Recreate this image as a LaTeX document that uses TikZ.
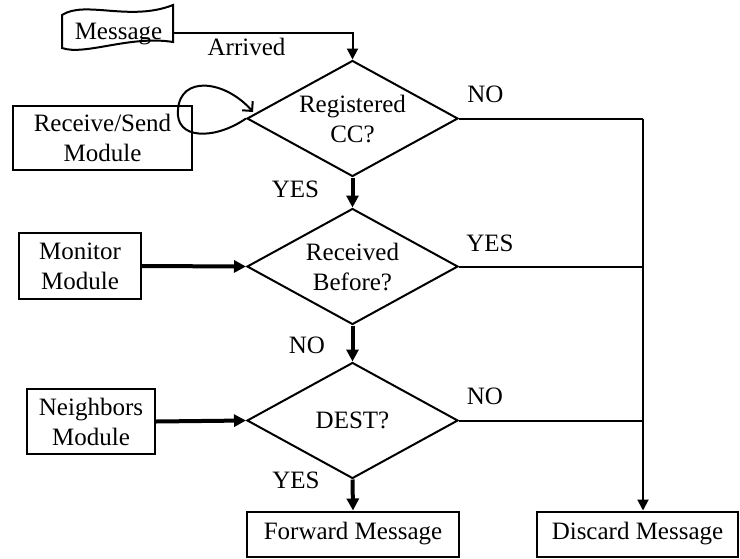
\documentclass[tikz,border=0pt]{standalone}
\usepackage{fontspec}
\setmainfont{Liberation Serif}
\usetikzlibrary{arrows.meta,shapes.geometric}
\begin{document}
\begin{tikzpicture}[x=1pt,y=-1pt,
  every node/.style={font=\fontsize{25}{30}\selectfont},
  thinline/.style={line width=2pt},
  thinarrow/.style={line width=2pt,-{Triangle[length=11pt,width=11pt]}},
  thickarrow/.style={line width=4pt,-{Triangle[length=12pt,width=12pt]}},
  boxnode/.style={draw,line width=2pt,rectangle,inner sep=0pt,align=center},
  decision/.style={draw,line width=2pt,diamond,shape aspect=1.82,inner sep=0pt,
    minimum width=211pt,minimum height=116pt,align=center},
  lbl/.style={anchor=base,inner sep=0pt}]
\useasboundingbox (0,0) rectangle (740,558);

% incoming message (tape symbol)
\node[inner sep=0pt,minimum width=111pt,minimum height=37pt,text depth=0pt] (msg) at (118.5,31) {Message};
\draw[thinline] (62,15) .. controls (85,0) and (130,22) .. (173,5) -- (173,42)
  .. controls (130,35) and (85,56) .. (62,48) -- cycle;

% decisions
\node[decision] (d1) at (352.5,118.5) {Registered\\CC?};
\node[decision] (d2) at (352.5,266.5) {Received\\Before?};
\node[decision] (d3) at (352.5,420.5) {DEST?};

% modules and outcomes
\node[boxnode,minimum width=179pt,minimum height=64pt] (rs) at (102.5,138) {Receive/Send\\Module};
\node[boxnode,minimum width=122pt,minimum height=66pt] (mon) at (80,266) {Monitor\\Module};
\node[boxnode,minimum width=128pt,minimum height=65pt] (nb) at (91,421.5) {Neighbors\\Module};
\node[boxnode,minimum width=212pt,minimum height=45pt] (fwd) at (353,534) {Forward Message};
\node[boxnode,minimum width=201pt,minimum height=45pt] (dis) at (637.5,534) {Discard Message};

% flow
\draw[thinarrow] ([yshift=-2pt]msg.east) -| (d1.north);
\draw[thinline,-{Straight Barb[length=7pt,width=14pt]}] (d1.west)
  .. controls (215,140) and (175,140) .. (178,110)
  .. controls (180,75) and (225,80) .. ([shift={(7pt,6.5pt)}]d1.west);
\draw[thickarrow] (d1.south) -- (d2.north);
\draw[thickarrow] (mon.east) -- (d2.west);
\draw[thickarrow] (d2.south) -- (d3.north);
\draw[thickarrow] (nb.east) -- (d3.west);
\draw[thickarrow] (d3.south) -- (fwd.north);

% rejection bus to the discard box
\coordinate (bus) at (643,118.5);
\draw[thinline] (d1.east) -- (bus);
\draw[thinarrow] (bus) -- (bus |- dis.north);
\draw[thinline] (d2.east) -- (d2.east -| bus);
\draw[thinline] (d3.east) -- (d3.east -| bus);

% labels
\node[lbl] (larr) at (246.5,55) {Arrived};
\node[lbl] (lno1) at (485.5,102) {NO};
\node[lbl] (lyes1) at (295.5,197) {YES};
\node[lbl] (lyes2) at (490,251) {YES};
\node[lbl] (lno2) at (307,353) {NO};
\node[lbl] (lno3) at (485,404) {NO};
\node[lbl] (lyes3) at (296,488) {YES};
\end{tikzpicture}
\end{document}
